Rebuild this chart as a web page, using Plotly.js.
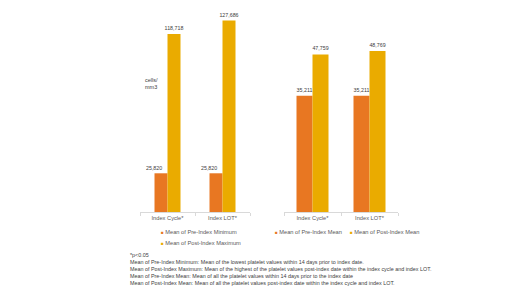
<!DOCTYPE html>
<html>
<head>
<meta charset="utf-8">
<script src="https://cdn.plot.ly/plotly-3.0.1.min.js"></script>
<style>html,body{margin:0;padding:0;background:#fff;}#chart{width:520px;height:292px;}</style>
</head>
<body>
<div id="chart"></div>
<script>
// ---- data ----
const categories = ['Index Cycle*', 'Index LOT*'];
const preIndexMinimum = [25820, 25820];
const postIndexMaximum = [118718, 127686];
const preIndexMean = [35211, 35211];
const postIndexMean = [47759, 48769];
const seriesNames = ['Mean of Pre-Index Minimum', 'Mean of Post-Index Maximum', 'Mean of Pre-Index Mean', 'Mean of Post-Index Mean'];
const unitLabel = 'cells/<br>mm3';
const footnotes = [
  '*p<0.05',
  'Mean of Pre-Index Minimum: Mean of the lowest platelet values within 14 days prior to index date.',
  'Mean of Post-Index Maximum: Mean of the highest of the platelet values post-index date within the index cycle and index LOT.',
  'Mean of Pre-Index Mean: Mean of all the platelet values within 14 days prior to the index date',
  'Mean of Post-Index Mean: Mean of all the platelet values post-index date within the index cycle and index LOT.'
];

// ---- style ----
const W = 520, H = 292;
const ORANGE = '#E87722', YELLOW = '#EAAB00';
const FONT = 'Liberation Sans, Arial, sans-serif';
const px = v => v / W;
const py = v => (H - v) / H;
const valueFont = {family: FONT, size: 5.3, color: '#404040'};

function barTrace(y, name, color, xa, ya, w, off, showText) {
  return {
    type: 'bar', x: categories, y: y, name: name, xaxis: xa, yaxis: ya,
    width: w, offset: off, marker: {color: color},
    texttemplate: '%{y:,}', textposition: showText ? 'outside' : 'none', cliponaxis: false,
    constraintext: 'none',
    textfont: valueFont,
    showlegend: false, hoverinfo: 'x+y'
  };
}

const wL = 13 / 55, wR = 16 / 57;
const data = [
  barTrace(preIndexMinimum, seriesNames[0], ORANGE, 'x', 'y', wL, -wL, false),
  barTrace(postIndexMaximum, seriesNames[1], YELLOW, 'x', 'y', wL, 0, true),
  barTrace(preIndexMean, seriesNames[2], ORANGE, 'x2', 'y2', wR, -wR, true),
  barTrace(postIndexMean, seriesNames[3], YELLOW, 'x2', 'y2', wR, 0, true)
];

const xCommon = {
  type: 'category', showline: true, linecolor: '#d9d9d9', linewidth: 1,
  ticks: 'outside', tickson: 'boundaries', ticklen: 3, tickcolor: '#d9d9d9',
  tickfont: {family: FONT, size: 5.7, color: '#595959'},
  showgrid: false, zeroline: false, fixedrange: true
};
const yCommon = {visible: false, showgrid: false, zeroline: false, fixedrange: true};

function legendItem(x, y, color, text) {
  return {
    xref: 'paper', yref: 'paper', x: px(x), y: py(y), xanchor: 'left', yanchor: 'middle',
    showarrow: false, align: 'left',
    text: '<span style="color:' + color + ';font-size:4.5px">■</span> ' + text,
    font: {family: FONT, size: 5.7, color: '#595959'}
  };
}

// value labels of the short left-hand bars, placed beside the tall neighbour bar
const preMinLabels = categories.map((c, i) => ({
  xref: 'x', yref: 'y', x: c, y: preIndexMinimum[i],
  xanchor: 'right', yanchor: 'bottom', xshift: -4, yshift: 0,
  showarrow: false, text: preIndexMinimum[i].toLocaleString('en-US'),
  font: valueFont
}));

const layout = {
  width: W, height: H,
  margin: {l: 0, r: 0, t: 0, b: 0},
  paper_bgcolor: '#ffffff', plot_bgcolor: 'rgba(0,0,0,0)',
  font: {family: FONT, color: '#595959'},
  barmode: 'group',
  showlegend: false,
  xaxis: Object.assign({}, xCommon, {domain: [px(140), px(250)], anchor: 'y'}),
  yaxis: Object.assign({}, yCommon, {domain: [py(212), 1], range: [0, 141390], anchor: 'x'}),
  xaxis2: Object.assign({}, xCommon, {domain: [px(284), px(398)], anchor: 'y2'}),
  yaxis2: Object.assign({}, yCommon, {domain: [py(212), 1], range: [0, 64240], anchor: 'x2'}),
  annotations: preMinLabels.concat([
    {xref: 'paper', yref: 'paper', x: px(143), y: py(83), xanchor: 'left', yanchor: 'middle',
     showarrow: false, align: 'left', text: unitLabel,
     font: {family: FONT, size: 5.5, color: '#404040'}},
    legendItem(159, 232, ORANGE, seriesNames[0]),
    legendItem(159, 243, YELLOW, seriesNames[1]),
    legendItem(273, 232, ORANGE, seriesNames[2]),
    legendItem(348, 232, YELLOW, seriesNames[3]),
    {xref: 'paper', yref: 'paper', x: px(128), y: py(250), xanchor: 'left', yanchor: 'top',
     showarrow: false, align: 'left', text: footnotes.join('<br>'),
     font: {family: FONT, size: 5.4, color: '#404040'}}
  ])
};

Plotly.newPlot('chart', data, layout, {staticPlot: true, displayModeBar: false});
</script>
</body>
</html>
